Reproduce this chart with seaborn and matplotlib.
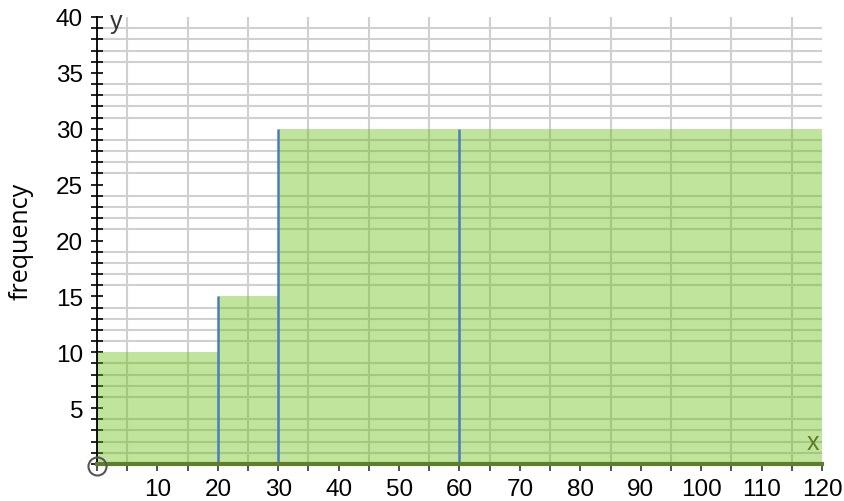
import numpy as np
import matplotlib
matplotlib.use("Agg")
import matplotlib.pyplot as plt
import seaborn as sns
import pandas as pd

# class boundaries and frequencies
bin_edges = [0, 20, 30, 60, 120]
frequencies = [10, 15, 30, 30]
x_label_ticks = list(range(10, 121, 10))
y_label_ticks = [5, 10, 15, 20, 25, 30, 35, 40]

sns.set_theme(style="white")
plt.rcParams['font.family'] = ['Liberation Sans', 'DejaVu Sans']

mids = [(a + b) / 2 for a, b in zip(bin_edges[:-1], bin_edges[1:])]
df = pd.DataFrame({"x": mids, "freq": frequencies})

fig = plt.figure(figsize=(8.45, 5.02), dpi=100)
ax = fig.add_axes([97 / 845, 37 / 502, 725 / 845, 447 / 502])

# grid behind everything
ax.set_xticks(np.arange(0, 121, 5), minor=True)
ax.set_yticks(np.arange(0, 41, 1), minor=True)
ax.grid(which="minor", color="#d0d0d0", linewidth=1.5, zorder=0)
ax.set_axisbelow(True)

sns.histplot(data=df, x="x", weights="freq", bins=bin_edges, stat="count",
             color=(100 / 255, 188 / 255, 10 / 255), alpha=0.4,
             edgecolor="none", linewidth=0, ax=ax, zorder=1)

# blue dividers between neighbouring classes
inner = bin_edges[1:-1]
tops = [max(frequencies[i], frequencies[i + 1]) for i in range(len(inner))]
ax.vlines(inner, 0, tops, color="#4a7ebb", linewidth=1.8, zorder=3)

ax.set_xlim(0, 120)
ax.set_ylim(0, 40)

for s in ["top", "right"]:
    ax.spines[s].set_visible(False)
ax.spines["left"].set_color("black")
ax.spines["left"].set_linewidth(1.3)
ax.spines["left"].set_zorder(4)
ax.spines["bottom"].set_color("#5b7f2b")
ax.spines["bottom"].set_linewidth(3)
ax.spines["bottom"].set_zorder(4)

ax.set_xticks(x_label_ticks)
ax.set_xticklabels([str(v) for v in x_label_ticks])
ax.set_yticks(y_label_ticks)
ax.set_yticklabels([str(v) for v in y_label_ticks])
ax.tick_params(axis="x", which="both", direction="out", length=5, width=1.2,
               color="#333333", bottom=True, labelsize=17.5, pad=5,
               labelcolor="black")
ax.tick_params(axis="y", which="both", direction="inout", length=8, width=1.2,
               color="black", left=True, labelsize=17.5, pad=6,
               labelcolor="black")

ax.set_xlabel("")
ax.set_ylabel("frequency", fontsize=18, family=["Open Sans", "DejaVu Sans"],
              labelpad=16, color="black")

ax.text(2.2, 39.6, "y", fontsize=18, color="#333333", va="center", ha="left")
ax.text(119.5, 2.0, "x", fontsize=18, color="#5e7a2a", va="center", ha="right")
ax.plot([0], [-0.2], marker="o", markersize=13, markerfacecolor="none",
        markeredgecolor="#555555", markeredgewidth=1.5, clip_on=False, zorder=5)

fig.savefig("out.png", dpi=100)
